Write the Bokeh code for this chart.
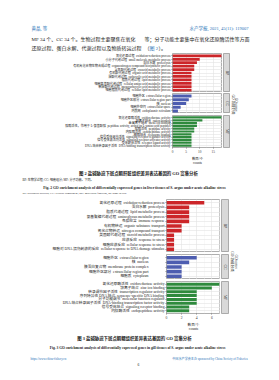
import math
from bokeh.plotting import figure
from bokeh.layouts import column, row
from bokeh.models import FactorRange, Range1d, FixedTicker, ColumnDataSource
from bokeh.embed import file_html
from bokeh.resources import INLINE
from bokeh.core.properties import value

SERIF = "'Liberation Serif', 'Noto Sans CJK SC'"
SP = "\u2002"

# ---------------- Figure 2: liver ----------------
liver_bp_cn = ["氧化还原过程", "小分子代谢过程", "蛋白水解", "有机氮化合物生物合成过程", "含氧酸代谢过程",
               "有机酸代谢过程", "羧酸代谢过程", "脂质代谢过程", "细胞氨基酸代谢过程", "单羧酸代谢过程", "细胞脂质代谢过程"]
liver_bp_en = ["oxidation-reduction process", "small molecule metabolic process", "proteolysis",
               "organonitrogen compound biosynthetic process", "oxoacid metabolic process",
               "organic acid metabolic process", "carboxylic acid metabolic process", "lipid metabolic process",
               "cellular amino acid metabolic process", "monocarboxylic acid metabolic process",
               "cellular lipid metabolic process"]
liver_bp_counts = [18, 10, 9, 8, 8, 7, 7, 7, 7, 7, 7]

liver_cc_cn = ["细胞外区", "细胞外区部分", "核", "细胞外空间", "内质网"]
liver_cc_en = ["extracellular region", "extracellular region part", "nucleus", "extracellular space",
               "endoplasmic reticulum"]
liver_cc_counts = [7, 6, 5, 3, 2]

liver_mf_cn = ["氧化还原酶活性", "阳离子结合", "金属离子结合", "肽酶活性，作用于 L-氨基酸肽", "肽酶活性",
               "内肽酶活性", "辅酶结合", "信号受体调节活性", "信号受体激活剂活性", "受体配体活性",
               "DNA 结合转录因子活性"]
liver_mf_en = ["oxidoreductase activity", "cation binding", "metal ion binding",
               "peptidase activity, acting on L-amino acid peptides", "peptidase activity",
               "endopeptidase activity", "coenzyme binding", "signaling receptor regulator activity",
               "signaling receptor activator activity", "receptor ligand activity",
               "DNA-binding transcription factor activity"]
liver_mf_counts = [18, 11, 9, 9, 8, 8, 7, 7, 7, 7, 7]
liver_ticks = [0, 5, 10, 15]
liver_minor = [2.5, 7.5, 12.5, 17.5]

# ---------------- Figure 3: gill ----------------
gill_bp_cn = ["氧化还原过程", "蛋白水解", "脂质代谢过程", "氨基聚糖代谢过程", "免疫应答", "有机物转运",
              "氮化合物转运", "类固醇代谢过程", "应激反应", "细胞应激反应", "细胞对 DNA 损伤刺激的反应"]
gill_bp_en = ["oxidation-reduction process", "proteolysis", "lipid metabolic process",
              "aminoglycan metabolic process", "immune response", "organic substance transport",
              "nitrogen compound transport", "steroid metabolic process", "response to stress",
              "cellular response to stress", "cellular response to DNA damage stimulus"]
gill_bp_counts = [5, 3, 3, 3, 3, 2, 2, 1, 1, 1, 1]

gill_cc_cn = ["细胞外区", "核", "膜蛋白复合物", "细胞外区部分", "细胞质"]
gill_cc_en = ["extracellular region", "nucleus", "membrane protein complex", "extracellular region part",
              "cytoplasm"]
gill_cc_counts = [4, 3, 2, 2, 2]

gill_mf_cn = ["氧化还原酶活性", "锌离子结合", "转录调节因子活性", "序列特异性 DNA 结合", "分子功能调节",
              "DNA 结合转录因子活性", "信号受体结合", "内肽酶活性"]
gill_mf_en = ["oxidoreductase activity", "zinc ion binding", "transcription regulator activity",
              "sequence-specific DNA binding", "molecular function regulator",
              "DNA-binding transcription factor activity", "signaling receptor binding",
              "endopeptidase activity"]
gill_mf_counts = [7, 6, 4, 4, 4, 4, 3, 3]
gill_ticks = [0, 2, 4, 6]
gill_minor = [1, 3, 5, 7]

RED, BLUE, GREEN = "#cc2529", "#4d5db0", "#2e8a3d"
BORDER = "#9a9a9a"
LINK = "#2b74b8"


def labels(cn, en):
    return [c + SP + e for c, e in zip(cn, en)]


def make_panel(cn, en, counts, color, xmax, ticks, minor, width, left, top, frame_h, bottom,
               show_x, label_px, standoff=1, tick_px=3.5, title_px=3.5):
    terms = labels(cn, en)
    src = ColumnDataSource(dict(term=terms, count=counts))
    p = figure(width=width, height=top + frame_h + bottom,
               x_range=Range1d(0, xmax),
               y_range=FactorRange(factors=terms[::-1], range_padding=0.2, range_padding_units="absolute"),
               x_axis_location="below" if show_x else None,
               output_backend="svg", toolbar_location=None,
               min_border_left=left, min_border_right=0, min_border_top=top, min_border_bottom=bottom)
    p.hbar(y="term", right="count", height=0.8, source=src, fill_color=color, line_color=None)
    p.outline_line_color = BORDER
    p.outline_line_width = 0.8
    p.background_fill_color = "white"
    p.border_fill_color = "white"
    p.xgrid.ticker = FixedTicker(ticks=ticks, minor_ticks=minor)
    p.xgrid.grid_line_color = "#e3e3e3"
    p.xgrid.grid_line_width = 0.6
    p.xgrid.minor_grid_line_color = "#efefef"
    p.xgrid.minor_grid_line_width = 0.4
    p.ygrid.grid_line_color = "#e3e3e3"
    p.ygrid.grid_line_width = 0.6
    ya = p.yaxis[0]
    ya.axis_line_color = None
    ya.major_tick_line_color = "#444444"
    ya.major_tick_line_width = 0.6
    ya.major_tick_out = 1
    ya.major_tick_in = 0
    ya.major_label_text_font = SERIF
    ya.major_label_text_font_size = f"{label_px}px"
    ya.major_label_text_color = "#222222"
    ya.major_label_standoff = standoff
    if show_x:
        xa = p.xaxis[0]
        xa.ticker = FixedTicker(ticks=ticks, minor_ticks=minor)
        xa.axis_line_color = None
        xa.major_tick_line_color = "#444444"
        xa.major_tick_line_width = 0.6
        xa.major_tick_out = 1
        xa.major_tick_in = 0
        xa.minor_tick_out = 0
        xa.minor_tick_in = 0
        xa.major_label_text_font = SERIF
        xa.major_label_text_font_size = f"{tick_px}px"
        xa.major_label_text_color = "#333333"
        xa.major_label_standoff = 1
        xa.axis_label = "数目/个\ncounts"
        xa.axis_label_text_font = SERIF
        xa.axis_label_text_font_style = "normal"
        xa.axis_label_text_font_size = f"{title_px}px"
        xa.axis_label_text_color = "#222222"
        xa.axis_label_standoff = 1
    return p


def make_strip(text, width, left, right, top, frame_h, bottom, font_px=3.6):
    s = figure(width=width, height=top + frame_h + bottom, x_range=Range1d(0, 1), y_range=Range1d(0, 1),
               x_axis_location=None, y_axis_location=None, output_backend="svg", toolbar_location=None,
               min_border_left=left, min_border_right=right, min_border_top=top, min_border_bottom=bottom,
               background_fill_color="#d9d9d9", border_fill_color="white",
               outline_line_color=BORDER, outline_line_width=0.8)
    s.grid.visible = False
    s.text(x=[0.5], y=[0.5], text=[text], angle=-math.pi / 2, text_align="center", text_baseline="middle",
           text_font=value(SERIF), text_font_size=f"{font_px}px", text_color="#1a1a1a")
    return s


def canvas(width, height):
    f = figure(width=width, height=height, x_range=Range1d(0, width), y_range=Range1d(height, 0),
               x_axis_location=None, y_axis_location=None, min_border=0, output_backend="svg",
               toolbar_location=None, outline_line_color=None, background_fill_color="white",
               border_fill_color="white")
    f.grid.visible = False
    return f


def put(f, x, y, t, size, color="#1a1a1a", align="left", bold=False, angle=0.0):
    f.text(x=[x], y=[y], text=[t], text_font=value(SERIF), text_font_size=f"{size}px", text_color=color,
           text_align=align, text_baseline="middle", text_font_style="bold" if bold else "normal",
           angle=angle)


# ---------------- header ----------------
header = canvas(279, 52)
put(header, 31, 27.5, "黄晶, 等", 4.5, LINK)
put(header, 248, 27.5, "水产学报, 2021, 45(11): 119007", 4.5, LINK, align="right")
put(header, 31, 39, "MF 34 个、CC 34 个。生物过程主要聚焦在氧化", 5)
put(header, 31, 47.5, "还原过程、蛋白水解、代谢过程以及物质转运过程", 5)
put(header, 144, 39, "等；分子功能主要集中在氧化还原酶活性等方面", 5)
put(header, 144, 47.5, "（", 5)
put(header, 149, 47.5, "图 2", 5, LINK)
put(header, 158, 47.5, "）。", 5)

# ---------------- chart 1 (liver) ----------------
L1, W1 = 172, 222
bp1 = make_panel(liver_bp_cn, liver_bp_en, liver_bp_counts, RED, 18.4, liver_ticks, liver_minor,
                 W1, L1, 1, 39, 0, False, 3.1)
cc1 = make_panel(liver_cc_cn, liver_cc_en, liver_cc_counts, BLUE, 18.4, liver_ticks, liver_minor,
                 W1, L1, 1, 20, 0, False, 3.1)
mf1 = make_panel(liver_mf_cn, liver_mf_en, liver_mf_counts, GREEN, 18.4, liver_ticks, liver_minor,
                 W1, L1, 2, 38, 15, True, 3.1, tick_px=3.4, title_px=3.4)
sbp1 = make_strip("BP", 8, 1, 0, 1, 39, 0)
scc1 = make_strip("CC", 8, 1, 0, 1, 20, 0)
smf1 = make_strip("MF", 8, 1, 0, 2, 38, 15)
t1 = canvas(49, 116)
put(t1, 2.0, 52, "GO 功能分类", 3.5, angle=-math.pi / 2, align="center")
put(t1, 5.6, 52, "GO terms", 3.5, angle=-math.pi / 2, align="center")
chart1 = row(column(row(bp1, sbp1), row(cc1, scc1), row(mf1, smf1)), t1)

# ---------------- caption 2 ----------------
cap2 = canvas(279, 29)
put(cap2, 138.5, 5.3, "图 2  盐碱胁迫下斑点鲷肝脏组织差异表达基因的 GO 富集分析", 4.4, bold=True, align="center")
put(cap2, 22, 11.6, "BP: 生物学过程; CC: 细胞组分; MF: 分子功能。下同。", 3.0)
put(cap2, 134.5, 19.5, "Fig. 2  GO enrichment analysis of differentially expressed genes in liver tissues of "
                       "S. argus under acute alkaline stress", 3.7, bold=True, align="center")
put(cap2, 22, 24.5, "BP: biological process; CC: cellular component; MF: molecular function, the same below.", 2.9)

# ---------------- chart 2 (gill) ----------------
L2, W2 = 166, 220
bp2 = make_panel(gill_bp_cn, gill_bp_en, gill_bp_counts, RED, 7.15, gill_ticks, gill_minor,
                 W2, L2, 2, 53, 0, False, 3.7)
cc2 = make_panel(gill_cc_cn, gill_cc_en, gill_cc_counts, BLUE, 7.15, gill_ticks, gill_minor,
                 W2, L2, 2, 25, 0, False, 3.7, standoff=17)
mf2 = make_panel(gill_mf_cn, gill_mf_en, gill_mf_counts, GREEN, 7.15, gill_ticks, gill_minor,
                 W2, L2, 2, 37, 16, True, 3.7, tick_px=3.6, title_px=3.6)
sbp2 = make_strip("BP", 9, 1, 1, 2, 53, 0)
scc2 = make_strip("CC", 9, 1, 1, 2, 25, 0)
smf2 = make_strip("MF", 9, 1, 1, 2, 37, 16)
t2 = canvas(50, 137)
put(t2, 2.7, 64, "GO 功能分类", 3.6, angle=-math.pi / 2, align="center")
put(t2, 6.6, 64, "GO terms", 3.6, angle=-math.pi / 2, align="center")
chart2 = row(column(row(bp2, sbp2), row(cc2, scc2), row(mf2, smf2)), t2)

# ---------------- caption 3 + footer ----------------
foot = canvas(279, 46)
put(foot, 134.5, 4.3, "图 3  盐碱胁迫下斑点鲷鳃组织差异表达基因的 GO 富集分析", 4.4, bold=True, align="center")
put(foot, 137.5, 13.5, "Fig. 3  GO enrichment analysis of differentially expressed genes in gill tissues of "
                       "S. argus under acute alkaline stress", 3.6, bold=True, align="center")
put(foot, 30, 24.3, "https://www.china-fishery.cn", 3.1, LINK)
put(foot, 248, 24.3, "中国水产学会主办  sponsored by China Society of Fisheries", 3.1, LINK, align="right")
put(foot, 138, 30.3, "6", 3.6, align="center")

page = column(header, chart1, cap2, chart2, foot)
open("out.html", "w").write(file_html(page, INLINE))
